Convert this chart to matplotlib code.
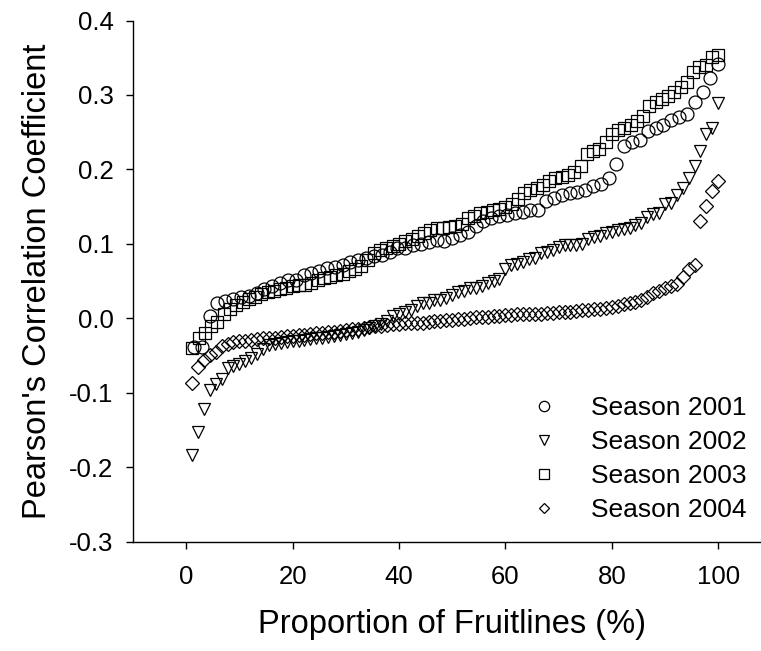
import matplotlib
matplotlib.use("Agg")
import matplotlib.pyplot as plt
import numpy as np

plt.rcParams['font.family'] = ['Liberation Sans', 'DejaVu Sans']

# ---- data ----
n2001 = 68
y2001 = [-0.039, -0.038, 0.003, 0.020, 0.023, 0.026, 0.028, 0.030, 0.034, 0.039,
         0.043, 0.047, 0.052, 0.052, 0.058, 0.061, 0.063, 0.067, 0.069, 0.071,
         0.075, 0.078, 0.081, 0.083, 0.085, 0.089, 0.094, 0.095, 0.098, 0.100,
         0.102, 0.105, 0.104, 0.108, 0.112, 0.116, 0.124, 0.130, 0.135, 0.137,
         0.139, 0.141, 0.143, 0.145, 0.146, 0.158, 0.162, 0.166, 0.168, 0.169,
         0.172, 0.177, 0.181, 0.189, 0.207, 0.231, 0.237, 0.239, 0.251, 0.255,
         0.260, 0.266, 0.270, 0.275, 0.291, 0.304, 0.323, 0.341]

n2002 = 90
y2002 = [-0.184, -0.153, -0.122, -0.096, -0.088, -0.082, -0.067, -0.064, -0.061, -0.057,
         -0.054, -0.048, -0.041, -0.036, -0.034, -0.033, -0.032, -0.031, -0.030, -0.029,
         -0.028, -0.027, -0.026, -0.025, -0.024, -0.022, -0.021, -0.020, -0.018, -0.016,
         -0.013, -0.011, -0.008, -0.004, 0.003, 0.005, 0.008, 0.011, 0.016, 0.020,
         0.021, 0.024, 0.025, 0.027, 0.031, 0.035, 0.037, 0.040, 0.041, 0.043,
         0.047, 0.050, 0.053, 0.066, 0.072, 0.073, 0.076, 0.079, 0.081, 0.087,
         0.089, 0.091, 0.096, 0.098, 0.098, 0.098, 0.100, 0.106, 0.109, 0.111,
         0.114, 0.116, 0.118, 0.120, 0.121, 0.125, 0.128, 0.136, 0.140, 0.141,
         0.153, 0.155, 0.165, 0.175, 0.188, 0.205, 0.225, 0.248, 0.256, 0.289]

n2003 = 85
y2003 = [-0.040, -0.026, -0.020, -0.011, -0.005, 0.006, 0.012, 0.018, 0.022, 0.026,
         0.029, 0.032, 0.035, 0.037, 0.039, 0.041, 0.043, 0.044, 0.045, 0.047,
         0.051, 0.054, 0.056, 0.058, 0.060, 0.063, 0.066, 0.070, 0.078, 0.088,
         0.092, 0.095, 0.097, 0.100, 0.104, 0.107, 0.111, 0.114, 0.118, 0.121,
         0.121, 0.122, 0.124, 0.127, 0.134, 0.138, 0.142, 0.143, 0.145, 0.147,
         0.150, 0.154, 0.160, 0.168, 0.172, 0.175, 0.179, 0.184, 0.188, 0.190,
         0.193, 0.196, 0.205, 0.221, 0.224, 0.228, 0.237, 0.248, 0.253, 0.256,
         0.260, 0.265, 0.272, 0.285, 0.290, 0.294, 0.298, 0.304, 0.310, 0.318,
         0.331, 0.337, 0.340, 0.351, 0.354]

n2004 = 90
y2004 = [-0.087, -0.065, -0.056, -0.049, -0.045, -0.037, -0.034, -0.032, -0.031, -0.030,
         -0.029, -0.028, -0.027, -0.026, -0.026, -0.025, -0.024, -0.024, -0.023, -0.022,
         -0.021, -0.020, -0.020, -0.019, -0.018, -0.017, -0.016, -0.015, -0.014, -0.013,
         -0.012, -0.011, -0.010, -0.009, -0.008, -0.008, -0.007, -0.007, -0.006, -0.006,
         -0.005, -0.004, -0.004, -0.003, -0.002, -0.001, -0.001, 0.000, 0.001, 0.002,
         0.002, 0.003, 0.003, 0.004, 0.004, 0.005, 0.005, 0.005, 0.006, 0.006,
         0.007, 0.007, 0.008, 0.008, 0.009, 0.010, 0.011, 0.011, 0.012, 0.013,
         0.014, 0.015, 0.017, 0.019, 0.020, 0.022, 0.025, 0.029, 0.034, 0.037,
         0.040, 0.043, 0.046, 0.055, 0.066, 0.071, 0.131, 0.151, 0.171, 0.184]

labels = ["Season 2001", "Season 2002", "Season 2003", "Season 2004"]
xticks = [0, 20, 40, 60, 80, 100]
yticks = [-0.3, -0.2, -0.1, 0.0, 0.1, 0.2, 0.3, 0.4]


def proportions(n):
    return np.arange(1, n + 1) / n * 100.0


fig = plt.figure(figsize=(7.61, 6.51), dpi=100)
ax = fig.add_axes([0.17477, 0.1682, 0.8389, 0.8003])

mew = 0.9
ax.plot(proportions(n2001), y2001, linestyle='none', marker='o', ms=9.3,
        mfc='none', mec='black', mew=mew, label=labels[0])
ax.plot(proportions(n2002), y2002, linestyle='none', marker='v', ms=8.8,
        mfc='none', mec='black', mew=mew, label=labels[1])
ax.plot(proportions(n2003), y2003, linestyle='none', marker='s', ms=8.5,
        mfc='none', mec='black', mew=mew, label=labels[2])
ax.plot(proportions(n2004), y2004, linestyle='none', marker='D', ms=6.7,
        mfc='none', mec='black', mew=mew, label=labels[3])

ax.set_xlim(-10, 110)
ax.set_ylim(-0.3, 0.4)
ax.set_xticks(xticks)
ax.set_xticklabels([str(t) for t in xticks])
ax.set_yticks(yticks)
ax.set_yticklabels([f"{t:.1f}" for t in yticks])

for s in ['top', 'right']:
    ax.spines[s].set_visible(False)
for s in ['left', 'bottom']:
    ax.spines[s].set_linewidth(1.0)

ax.tick_params(axis='both', direction='out', length=5, width=1.0,
               labelsize=18.5, colors='black')
ax.tick_params(axis='x', pad=12)
ax.tick_params(axis='y', pad=9)

ax.set_xlabel("Proportion of Fruitlines (%)", fontsize=23.5, labelpad=14)
ax.set_ylabel("Pearson's Correlation Coefficient", fontsize=23.5, labelpad=12)

leg = ax.legend(loc='center left', bbox_to_anchor=(0.6807, 0.2945),
                bbox_transform=fig.transFigure, frameon=False, fontsize=19,
                markerscale=0.8, handlelength=2.0, handletextpad=0.75,
                labelspacing=0.38, borderpad=0, borderaxespad=0)

fig.savefig("out.png", dpi=100)
